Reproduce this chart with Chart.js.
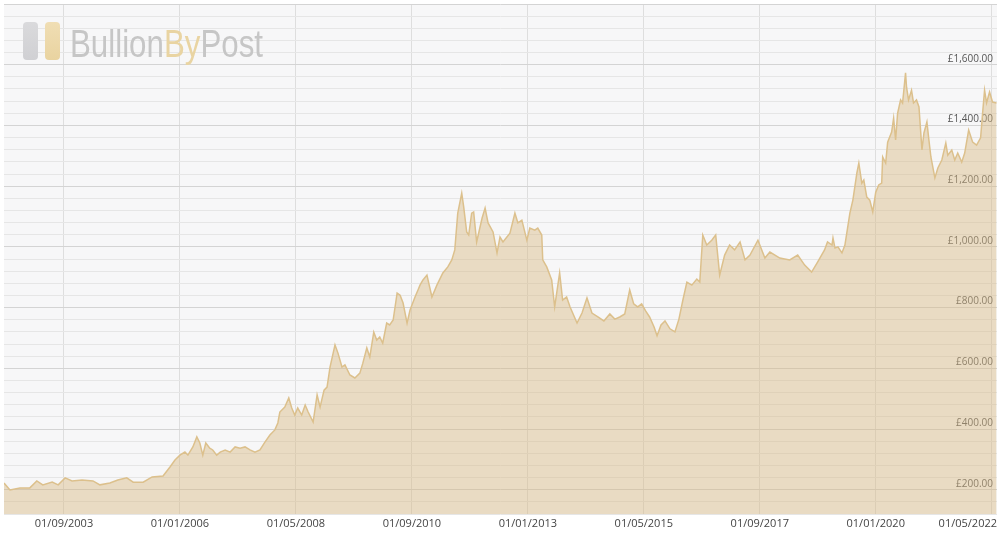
<!DOCTYPE html>
<html>
<head>
<meta charset="utf-8">
<script src="https://cdn.jsdelivr.net/npm/chart.js@4.4.1/dist/chart.umd.min.js"></script>
<style>
  html, body { margin: 0; padding: 0; background: #fff; }
  #wrap { width: 1000px; height: 534px; position: relative; }
</style>
</head>
<body>
<div id="wrap"><canvas id="gold"></canvas></div>
<script>
// Gold price in GBP (decimal years / pounds)
const years = [
  2002.46, 2002.58, 2002.78, 2002.98, 2003.12, 2003.24, 2003.43, 2003.55, 2003.69, 2003.83,
  2004.03, 2004.25, 2004.39, 2004.59, 2004.75, 2004.93, 2005.06, 2005.26, 2005.44, 2005.66,
  2005.80, 2005.90, 2006.00, 2006.10, 2006.16, 2006.26, 2006.34, 2006.40, 2006.46, 2006.52,
  2006.60, 2006.66, 2006.74, 2006.81, 2006.91, 2007.01, 2007.11, 2007.21, 2007.31, 2007.41,
  2007.51, 2007.61, 2007.71, 2007.81, 2007.91, 2007.97, 2008.01, 2008.11, 2008.19, 2008.25,
  2008.31, 2008.37, 2008.45, 2008.52, 2008.58, 2008.68, 2008.76, 2008.82, 2008.90, 2008.96,
  2009.02, 2009.12, 2009.18, 2009.26, 2009.32, 2009.42, 2009.52, 2009.62, 2009.68, 2009.76,
  2009.82, 2009.90, 2009.96, 2010.02, 2010.08, 2010.16, 2010.22, 2010.29, 2010.37, 2010.43,
  2010.49, 2010.57, 2010.63, 2010.73, 2010.79,
  2010.83, 2010.89, 2010.97, 2011.07, 2011.17, 2011.29, 2011.39,
  2011.47, 2011.53, 2011.59, 2011.67, 2011.71, 2011.77, 2011.81, 2011.87, 2011.91, 2011.97,
  2012.08, 2012.14, 2012.20, 2012.30, 2012.38, 2012.44, 2012.50, 2012.64, 2012.74, 2012.80,
  2012.88, 2012.98, 2013.04, 2013.14, 2013.20, 2013.28, 2013.30, 2013.38, 2013.48, 2013.54,
  2013.64, 2013.70, 2013.78, 2013.85, 2013.99, 2014.09, 2014.19, 2014.29, 2014.41, 2014.53,
  2014.65, 2014.75, 2014.85, 2014.95, 2015.05, 2015.13, 2015.21, 2015.29, 2015.37, 2015.45,
  2015.54, 2015.60, 2015.68, 2015.76, 2015.86, 2015.96, 2016.04, 2016.12, 2016.20, 2016.30,
  2016.40, 2016.46, 2016.52, 2016.60, 2016.70, 2016.78, 2016.86, 2016.96, 2017.06, 2017.16,
  2017.27, 2017.37, 2017.47, 2017.63, 2017.77, 2017.87, 2018.07, 2018.27, 2018.43, 2018.57,
  2018.71, 2018.83, 2018.97, 2019.03, 2019.12, 2019.14, 2019.18, 2019.24, 2019.32, 2019.38,
  2019.48, 2019.54, 2019.62, 2019.66, 2019.72, 2019.76, 2019.82, 2019.88, 2019.94, 2020.00,
  2020.06, 2020.12, 2020.14, 2020.20, 2020.24, 2020.32, 2020.36, 2020.40, 2020.44, 2020.50,
  2020.54, 2020.60, 2020.62, 2020.66, 2020.72, 2020.76, 2020.82, 2020.87, 2020.93, 2020.97,
  2021.03, 2021.07, 2021.11, 2021.19, 2021.25, 2021.33, 2021.41, 2021.45, 2021.53, 2021.59,
  2021.65, 2021.73, 2021.79, 2021.87, 2021.95, 2022.03, 2022.11, 2022.15, 2022.19, 2022.23,
  2022.29, 2022.35, 2022.43
];
const prices = [
  222, 199, 206, 206, 229, 216, 225, 216, 239, 229,
  232, 229, 216, 222, 232, 239, 225, 225, 242, 245,
  275, 298, 314, 324, 314, 341, 374, 354, 314, 354,
  337, 331, 314, 324, 331, 324, 341, 337, 341, 331,
  324, 331, 357, 380, 397, 420, 456, 472, 502, 469,
  446, 469, 446, 479, 456, 423, 512, 472, 528, 538,
  604, 677, 650, 604, 611, 578, 568, 584, 617, 667,
  637, 719, 693, 703, 683, 749, 743, 759, 848, 841,
  815, 749, 792, 835, 858,
  874, 891, 907, 835, 874, 914, 934,
  957, 990, 1111, 1177, 1131, 1049, 1039, 1111, 1115, 1016,
  1095, 1128, 1079, 1049, 980, 1032, 1016, 1045, 1111, 1079,
  1088, 1022, 1062, 1055, 1062, 1039, 957, 934, 891, 802,
  914, 825, 835, 802, 749, 782, 832, 782, 769, 756,
  779, 762, 769, 779, 858, 812, 802, 812, 789, 769,
  736, 707, 743, 756, 730, 720, 762, 825, 884, 874,
  894, 884, 1039, 1006, 1022, 1039, 907, 973, 1006, 990,
  1016, 957, 973, 1022, 963, 983, 963, 957, 973, 940,
  917, 950, 990, 1016, 1006, 1029, 996, 1000, 980, 1006,
  1111, 1154, 1243, 1276, 1210, 1220, 1164, 1154, 1115, 1180,
  1204, 1210, 1296, 1276, 1345, 1378, 1424, 1352, 1440, 1484,
  1474, 1573, 1526, 1484, 1516, 1474, 1484, 1461, 1319, 1375,
  1411, 1352, 1296, 1227, 1260, 1286, 1342, 1302, 1319, 1286,
  1309, 1279, 1309, 1385, 1345, 1335, 1359, 1440, 1516, 1474,
  1510, 1477, 1474
];

const xTickValues = [2003.667, 2006, 2008.333, 2010.667, 2013, 2015.333, 2017.667, 2020, 2022.333];
const xTickLabels = ['01/09/2003', '01/01/2006', '01/05/2008', '01/09/2010', '01/01/2013',
                     '01/05/2015', '01/09/2017', '01/01/2020', '01/05/2022'];
const yMin = 120, yMax = 1800, yStep = 40, yLabelEvery = 200;

const points = years.map((x, i) => ({ x, y: prices[i] }));

// ── plugins ──────────────────────────────────────────────────────────────
const plotBg = {
  id: 'plotBg',
  beforeDraw(chart) {
    const { ctx, chartArea: a } = chart;
    ctx.save();
    ctx.fillStyle = '#f7f7f8';
    ctx.fillRect(a.left, a.top, a.right - a.left, a.bottom - a.top);
    ctx.restore();
  },
};

const logo = {
  id: 'logo',
  beforeDatasetsDraw(chart) {
    const ctx = chart.ctx;
    ctx.save();
    const bar = (x, c1, c2) => {
      const g = ctx.createLinearGradient(0, 22, 0, 60);
      g.addColorStop(0, c1); g.addColorStop(1, c2);
      ctx.fillStyle = g;
      ctx.beginPath();
      ctx.roundRect(x, 22, 15, 38, 4);
      ctx.fill();
    };
    bar(23, '#dadadc', '#d0d0d3');
    bar(45, '#f0deb4', '#e9d3a0');

    ctx.font = '38px "Liberation Sans Narrow", "Liberation Sans", sans-serif';
    ctx.textBaseline = 'alphabetic';
    const parts = [['Bullion', '#c6c6c6'], ['By', '#e9d4a2'], ['Post', '#c6c6c6']];
    const total = parts.reduce((s, p) => s + ctx.measureText(p[0]).width, 0);
    const sx = 193 / total;
    ctx.translate(70, 57);
    ctx.scale(sx, 1);
    let x = 0;
    for (const [t, c] of parts) {
      ctx.fillStyle = c;
      ctx.fillText(t, x, 0);
      x += ctx.measureText(t).width;
    }
    ctx.restore();
  },
};

const xLabels = {
  id: 'xLabels',
  afterDraw(chart) {
    const { ctx, chartArea: a, scales } = chart;
    ctx.save();
    ctx.font = '11px "Open Sans", sans-serif';
    ctx.fillStyle = '#444';
    ctx.textBaseline = 'middle';
    xTickValues.forEach((v, i) => {
      const t = xTickLabels[i];
      const w = ctx.measureText(t).width;
      let left = scales.x.getPixelForValue(v) - w / 2;
      left = Math.min(left, chart.width - 3 - w);
      ctx.fillText(t, left, a.bottom + 10);
    });
    ctx.restore();
  },
};

new Chart(document.getElementById('gold'), {
  type: 'line',
  data: {
    datasets: [{
      data: points,
      borderColor: '#dcc08c',
      backgroundColor: 'rgba(215,185,130,0.45)',
      borderWidth: 1.5,
      pointRadius: 0,
      tension: 0,
      fill: 'start',
    }],
  },
  options: {
    animation: false,
    responsive: true,
    maintainAspectRatio: false,
    layout: { padding: { left: 4, right: 3, top: 4, bottom: 20 } },
    plugins: { legend: { display: false }, tooltip: { enabled: false } },
    scales: {
      x: {
        type: 'linear',
        min: 2002.46,
        max: 2022.44,
        afterBuildTicks: s => { s.ticks = xTickValues.map(value => ({ value })); },
        afterFit: s => { s.height = 0; s.paddingLeft = 0; s.paddingRight = 0; },
        ticks: { display: false },
        grid: { color: '#dedede', drawTicks: false },
        border: { display: false },
      },
      y: {
        position: 'right',
        min: yMin,
        max: yMax,
        afterBuildTicks: s => {
          const t = [];
          for (let v = yMin; v <= yMax; v += yStep) t.push({ value: v });
          s.ticks = t;
        },
        afterFit: s => { s.width = 0; s.paddingTop = 0; s.paddingBottom = 0; },
        ticks: {
          autoSkip: false,
          mirror: true,
          padding: -4,
          labelOffset: -6,
          color: '#555',
          font: { family: '"Open Sans", sans-serif', size: 10 },
          callback: v => (v % yLabelEvery === 0 && v < yMax)
            ? '£' + v.toLocaleString('en-GB', { minimumFractionDigits: 2 })
            : '',
        },
        grid: {
          drawTicks: false,
          color: c => c.tick.value % yLabelEvery === 0 ? '#d4d4d4' : '#e6e6e6',
        },
        border: { display: false },
      },
    },
  },
  plugins: [plotBg, logo, xLabels],
});
</script>
</body>
</html>
